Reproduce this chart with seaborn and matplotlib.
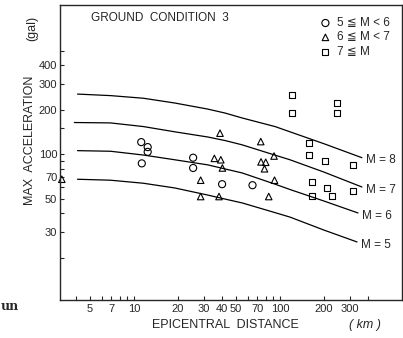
import matplotlib
matplotlib.use("Agg")
import matplotlib.pyplot as plt
import seaborn as sns
import pandas as pd
from matplotlib.ticker import FixedLocator, NullFormatter, FixedFormatter

# ---------------- data ----------------
circle_dist = [11.2, 12.4, 12.4, 11.3, 25.4, 25.4, 40.1, 64.8]
circle_acc = [121, 112, 104, 87, 95, 81, 63, 62]

tri_dist = [3.2, 38.8, 73.8, 91, 35.5, 39.3, 40.3, 74.1, 79.8, 78.3, 28.6, 91.7, 28.6, 38.2, 83.7]
tri_acc = [68, 139, 122, 97.5, 94, 92, 81, 89, 88.5, 80, 67, 67, 52, 52, 52]

sq_dist = [120, 120, 247, 247, 159, 159, 203, 318, 165, 209, 226, 318, 165]
sq_acc = [251, 189, 221, 189, 119, 99, 90, 85, 65.5, 59, 52.5, 57, 52.5]

m8_dist = [4.1, 6.9, 11.6, 19, 32, 42, 55, 92.5, 117, 200, 364]
m8_acc = [255, 249, 239, 222, 202, 190, 176, 154, 142, 118, 95]
m7_dist = [3.9, 6.9, 11.6, 19, 32, 42, 55, 92, 117, 200, 364]
m7_acc = [164, 163, 154, 142, 131, 124, 116, 99, 92, 76, 60.3]
m6_dist = [4.1, 6.9, 11.6, 19, 32, 42, 55, 92.5, 117, 200, 342]
m6_acc = [106, 105, 99, 92, 85, 79.8, 75, 63, 58, 48.5, 40.3]
m5_dist = [4.1, 6.9, 11.6, 19, 32, 42, 55, 92.5, 117, 200, 337]
m5_acc = [68, 67, 63.9, 59.4, 53.2, 50, 47.1, 40.5, 37.8, 30.9, 25.7]

curve_labels = ["M = 8", "M = 7", "M = 6", "M = 5"]
group_labels = ["5 ≦ M < 6", "6 ≦ M < 7", "7 ≦ M"]

x_major = [5, 7, 10, 20, 30, 40, 50, 70, 100, 200, 300]
x_minor = [4, 6, 8, 9, 60, 80, 90, 400]
y_major = [30, 50, 70, 100, 200, 300, 400]
y_minor = [20, 40, 60, 80, 90, 150, 500]

# ---------------- style ----------------
sns.set_style("ticks")
plt.rcParams['font.family'] = ['Liberation Sans', 'DejaVu Sans']
plt.rcParams['font.size'] = 8

fig = plt.figure(figsize=(4.03, 3.38), dpi=100)
W, H = 403, 338
ax = fig.add_axes([60 / W, 1 - 300 / H, (402 - 60) / W, (300 - 5) / H])
ax.set_xscale('log')
ax.set_yscale('log')

# curves
curves = [(m8_dist, m8_acc), (m7_dist, m7_acc), (m6_dist, m6_acc), (m5_dist, m5_acc)]
for (cd, ca), lab in zip(curves, curve_labels):
    sns.lineplot(x=cd, y=ca, ax=ax, color='black', linewidth=0.9, sort=False,
                 estimator=None)
    ax.annotate(lab, xy=(cd[-1], ca[-1]), xytext=(3, -2), textcoords='offset points',
                ha='left', va='center', fontsize=8.5)

# points
mk = dict(facecolor='none', edgecolor='black', linewidth=0.8, ax=ax)
sns.scatterplot(x=circle_dist, y=circle_acc, marker='o', s=26, label=group_labels[0], **mk)
sns.scatterplot(x=tri_dist, y=tri_acc, marker='^', s=22, label=group_labels[1], clip_on=False, **mk)
sns.scatterplot(x=sq_dist, y=sq_acc, marker='s', s=18, label=group_labels[2], **mk)

ax.set_xlim(3.11, 685)
ax.set_ylim(10.44, 1016)

ax.xaxis.set_major_locator(FixedLocator(x_major))
ax.xaxis.set_major_formatter(FixedFormatter([str(v) for v in x_major]))
ax.xaxis.set_minor_locator(FixedLocator(x_minor))
ax.xaxis.set_minor_formatter(NullFormatter())
ax.yaxis.set_major_locator(FixedLocator(y_major))
ax.yaxis.set_major_formatter(FixedFormatter([str(v) for v in y_major]))
ax.yaxis.set_minor_locator(FixedLocator(y_minor))
ax.yaxis.set_minor_formatter(NullFormatter())
ax.tick_params(which='both', direction='in', length=3, width=0.8, labelsize=8, pad=3)
ax.tick_params(axis='y', which='both', pad=2)
for s in ax.spines.values():
    s.set_linewidth(1.0)

leg = ax.legend(loc='upper left', frameon=False, fontsize=8.5, handletextpad=0.5,
                labelspacing=0.2, borderaxespad=0.0, handlelength=1.0,
                bbox_to_anchor=(0.745, 0.975))

ax.set_xlabel('')
ax.set_ylabel('')
ax.text(0.09, 0.975, 'GROUND  CONDITION  3', transform=ax.transAxes, fontsize=8.5,
        va='top', ha='left')

fig.text(30 / W, 1 - 140 / H, 'MAX  ACCELERATION', rotation=90, ha='center',
         va='center', fontsize=9)
fig.text(32 / W, 1 - 28 / H, '(gal)', rotation=90, ha='center', va='center', fontsize=9)
fig.text(225 / W, 1 - 325 / H, 'EPICENTRAL  DISTANCE', ha='center', va='center', fontsize=9)
fig.text(365 / W, 1 - 325 / H, '( km )', ha='center', va='center', fontsize=9, style='italic')
fig.text(1 / W, 1 - 307 / H, 'un', ha='left', va='center', fontsize=9, fontweight='bold',
         family='DejaVu Serif')

fig.savefig('out.png', dpi=100)
